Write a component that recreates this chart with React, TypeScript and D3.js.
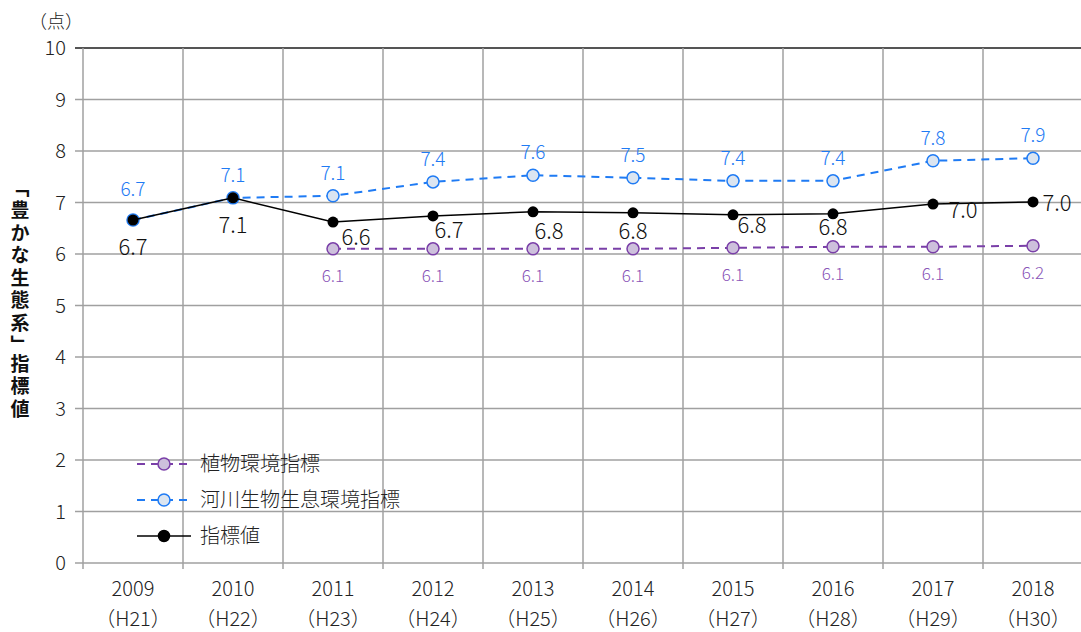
import * as d3 from 'd3';
import React, { useEffect, useRef } from 'react';

const years = ['2009', '2010', '2011', '2012', '2013', '2014', '2015', '2016', '2017', '2018'];
const heisei = ['H21', 'H22', 'H23', 'H24', 'H25', 'H26', 'H27', 'H28', 'H29', 'H30'];
const yTicks = [0, 1, 2, 3, 4, 5, 6, 7, 8, 9, 10];

// 指標値
const indexValues = [6.66, 7.09, 6.62, 6.74, 6.82, 6.8, 6.76, 6.78, 6.97, 7.01];
const indexLabels = ['6.7', '7.1', '6.6', '6.7', '6.8', '6.8', '6.8', '6.8', '7.0', '7.0'];
// 河川生物生息環境指標
const riverValues = [6.66, 7.09, 7.13, 7.4, 7.53, 7.48, 7.42, 7.42, 7.81, 7.86];
const riverLabels = ['6.7', '7.1', '7.1', '7.4', '7.6', '7.5', '7.4', '7.4', '7.8', '7.9'];
// 植物環境指標
const plantValues = [null, null, 6.1, 6.1, 6.1, 6.1, 6.12, 6.14, 6.14, 6.16];
const plantLabels = ['', '', '6.1', '6.1', '6.1', '6.1', '6.1', '6.1', '6.1', '6.2'];

const yTitle = ['「豊かな生態系」', '指標値'];

// label offsets of the black series (the source chart places them by hand)
const indexLabelPos = [
  [0, 27], [0, 27], [23, 15], [16, 14], [16, 19], [0, 18], [19, 10], [0, 13], [30, 6], [24, 1],
];

const FONT = "'Noto Sans CJK JP', 'Noto Sans', sans-serif";
const BLUE = '#1f7bf4';
const PURPLE = '#7a3fa8';

export default function App() {
  const svgRef = useRef<SVGSVGElement>(null);
  const width = 1081;
  const height = 632;

  useEffect(() => {
    const svg = d3.select(svgRef.current);
    svg.selectAll('*').remove();

    const left = 83, right = 1083, top = 48, bottom = 563;

    const x = d3.scaleBand().domain(years).range([left, right]);
    const cx = (i: number) => x(years[i])! + x.bandwidth() / 2;
    const y = d3.scaleLinear().domain([0, 10]).range([bottom, top]);

    const grid = svg.append('g');
    grid.selectAll('line.h')
      .data(yTicks)
      .enter()
      .append('line')
      .attr('x1', left - 8)
      .attr('x2', right)
      .attr('y1', (d) => y(d))
      .attr('y2', (d) => y(d))
      .attr('stroke', (d) => (d === 10 ? '#555' : '#a0a0a0'))
      .attr('stroke-width', (d) => (d === 10 ? 2 : 1.5));

    grid.selectAll('line.v')
      .data(years)
      .enter()
      .append('line')
      .attr('x1', (d) => x(d)!)
      .attr('x2', (d) => x(d)!)
      .attr('y1', top)
      .attr('y2', bottom + 6)
      .attr('stroke', '#a0a0a0')
      .attr('stroke-width', 1.5);

    svg.selectAll('text.ytick')
      .data(yTicks)
      .enter()
      .append('text')
      .attr('x', 66)
      .attr('y', (d) => y(d))
      .attr('dy', '0.36em')
      .attr('text-anchor', 'end')
      .attr('font-family', FONT)
      .attr('font-weight', 300)
      .attr('font-size', 20)
      .attr('fill', '#222')
      .text((d) => d);

    const xl = svg.selectAll('text.xtick')
      .data(years)
      .enter()
      .append('text')
      .attr('text-anchor', 'middle')
      .attr('font-family', FONT)
      .attr('font-weight', 300)
      .attr('font-size', 20)
      .attr('fill', '#222');
    xl.append('tspan').attr('x', (d, i) => cx(i)).attr('y', 596).text((d) => d);
    xl.append('tspan').attr('x', (d, i) => cx(i)).attr('y', 626).text((d, i) => `（${heisei[i]}）`);

    svg.append('text')
      .attr('x', 29)
      .attr('y', 28)
      .attr('font-family', FONT)
      .attr('font-weight', 300)
      .attr('font-size', 18)
      .attr('fill', '#222')
      .text('（点）');

    svg.selectAll('text.ytitle')
      .data(yTitle)
      .enter()
      .append('text')
      .attr('x', 20)
      .attr('y', (d, i) => (i === 0 ? 178 : 354))
      .attr('font-family', FONT)
      .attr('font-size', 19)
      .attr('font-weight', 'bold')
      .attr('letter-spacing', 3.5)
      .style('writing-mode', 'vertical-rl')
      .attr('fill', '#111')
      .text((d) => d);

    const line = d3.line<number | null>()
      .defined((d) => d !== null)
      .x((d, i) => cx(i))
      .y((d) => y(d as number));

    const plot = svg.append('g');

    // 植物環境指標
    plot.append('path')
      .attr('d', line(plantValues))
      .attr('fill', 'none')
      .attr('stroke', PURPLE)
      .attr('stroke-width', 2)
      .attr('stroke-dasharray', '8,6');
    plantValues.forEach((v, i) => {
      if (v === null) return;
      plot.append('circle').attr('cx', cx(i)).attr('cy', y(v)).attr('r', 6)
        .attr('fill', '#cdc0dc').attr('stroke', PURPLE).attr('stroke-width', 1.5);
      plot.append('text').attr('x', cx(i)).attr('y', y(v) + 27).attr('dy', '0.36em')
        .attr('text-anchor', 'middle').attr('font-family', FONT).attr('font-weight', 300)
        .attr('font-size', 17).attr('fill', '#8a55b8').text(plantLabels[i]);
    });

    // 河川生物生息環境指標
    plot.append('path')
      .attr('d', line(riverValues))
      .attr('fill', 'none')
      .attr('stroke', BLUE)
      .attr('stroke-width', 2)
      .attr('stroke-dasharray', '8,6');
    riverValues.forEach((v, i) => {
      plot.append('circle').attr('cx', cx(i)).attr('cy', y(v)).attr('r', 6)
        .attr('fill', '#dbe5f1').attr('stroke', BLUE).attr('stroke-width', 1.5);
      plot.append('text').attr('x', cx(i)).attr('y', y(v) - (i === 0 ? 31 : 23)).attr('dy', '0.36em')
        .attr('text-anchor', 'middle').attr('font-family', FONT).attr('font-weight', 300)
        .attr('font-size', 19).attr('fill', BLUE).text(riverLabels[i]);
    });

    // 指標値
    plot.append('path')
      .attr('d', line(indexValues))
      .attr('fill', 'none')
      .attr('stroke', '#000')
      .attr('stroke-width', 1.5);
    indexValues.forEach((v, i) => {
      plot.append('circle').attr('cx', cx(i)).attr('cy', y(v)).attr('r', 5.5).attr('fill', '#000');
      plot.append('text').attr('x', cx(i) + indexLabelPos[i][0]).attr('y', y(v) + indexLabelPos[i][1])
        .attr('dy', '0.36em').attr('text-anchor', 'middle').attr('font-family', FONT)
        .attr('font-weight', 300).attr('font-size', 22).attr('fill', '#111').text(indexLabels[i]);
    });

    // legend
    const legend = [
      { name: '植物環境指標', stroke: PURPLE, fill: '#cdc0dc', dash: '8,6', r: 6 },
      { name: '河川生物生息環境指標', stroke: BLUE, fill: '#dbe5f1', dash: '8,6', r: 6 },
      { name: '指標値', stroke: '#000', fill: '#000', dash: null, r: 5.5 },
    ];
    const lg = svg.append('g').attr('transform', 'translate(137,464)');
    legend.forEach((d, i) => {
      const row = lg.append('g').attr('transform', `translate(0,${i * 36})`);
      row.append('line').attr('x1', 0).attr('x2', 54).attr('y1', 0).attr('y2', 0)
        .attr('stroke', d.stroke).attr('stroke-width', d.dash ? 2 : 1.5)
        .attr('stroke-dasharray', d.dash ?? null);
      row.append('circle').attr('cx', 27).attr('cy', 0).attr('r', d.r)
        .attr('fill', d.fill).attr('stroke', d.stroke).attr('stroke-width', 1.5);
      row.append('text').attr('x', 63).attr('y', 0).attr('dy', '0.36em')
        .attr('font-family', FONT).attr('font-weight', 300)
        .attr('font-size', 20).attr('fill', '#222').text(d.name);
    });
  }, []);

  return (
    <svg
      ref={svgRef}
      width={width}
      height={height}
      style={{ position: 'absolute', left: 0, top: 0, background: '#fff' }}
    />
  );
}
